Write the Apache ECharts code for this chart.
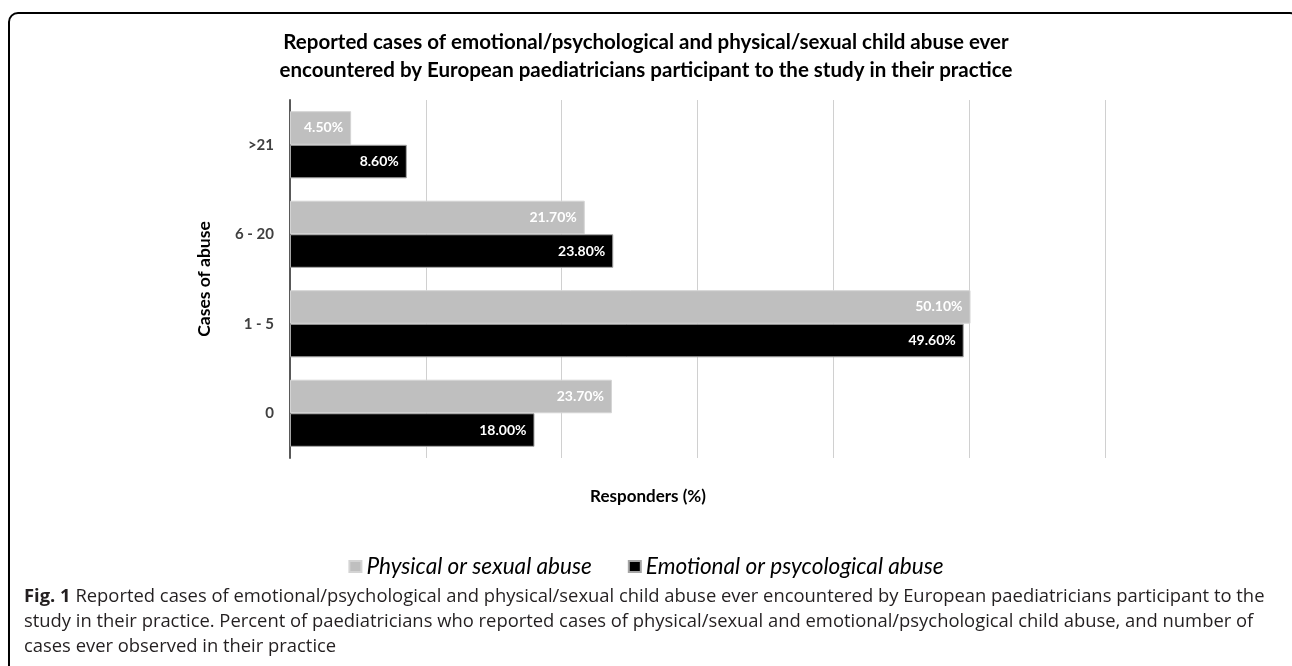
<!DOCTYPE html>
<html>
<head>
<meta charset="utf-8">
<script src="https://cdn.jsdelivr.net/npm/echarts@6/dist/echarts.min.js"></script>
<style>
  html, body { margin: 0; padding: 0; background: #fff; }
  #chart { width: 1292px; height: 666px; }
</style>
</head>
<body>
<div id="chart"></div>
<script>
// Number of cases ever seen (bottom to top on the category axis)
const caseCategories = ['0', '1 - 5', '6 - 20', '>21'];
// Percent of responders per category
const physicalSexual = [23.7, 50.1, 21.7, 4.5];
const emotionalPsych = [18.0, 49.6, 23.8, 8.6];
const seriesNames = ['Physical or sexual abuse', 'Emotional or psycological abuse'];

const titleLines = [
  'Reported cases of emotional/psychological and physical/sexual child abuse ever',
  'encountered by European paediatricians participant to the study in their practice'
];
const xAxisTitle = 'Responders (%)';
const captionLead = 'Fig. 1';
const captionLines = [
  'Reported cases of emotional/psychological and physical/sexual child abuse ever encountered by European paediatricians participant to the',
  'study in their practice. Percent of paediatricians who reported cases of physical/sexual and emotional/psychological child abuse, and number of',
  'cases ever observed in their practice'
];

const chart = echarts.init(document.getElementById('chart'), null, { renderer: 'canvas' });

const labelStyle = {
  show: true,
  position: 'insideRight',
  distance: 8,
  color: '#ffffff',
  fontFamily: 'Lato',
  fontWeight: 'bold',
  fontSize: 14,
  formatter: p => p.value.toFixed(2) + '%'
};

chart.setOption({
  animation: false,
  backgroundColor: '#ffffff',
  title: {
    text: titleLines.join('\n'),
    left: 'center',
    top: 23,
    textStyle: {
      fontFamily: 'Lato',
      fontWeight: 'bold',
      fontSize: 20.5,
      lineHeight: 28,
      color: '#000000'
    }
  },
  legend: {
    data: seriesNames,
    left: 'center',
    top: 550,
    icon: 'rect',
    itemWidth: 12,
    itemHeight: 11,
    itemGap: 36,
    textStyle: {
      fontFamily: 'Lato',
      fontStyle: 'italic',
      fontSize: 22.6,
      color: '#000000'
    }
  },
  grid: { left: 290, right: 187, top: 100, bottom: 208 },
  xAxis: {
    type: 'value',
    min: 0,
    max: 60,
    interval: 10,
    axisLabel: { show: false },
    axisTick: { show: false },
    axisLine: { show: false },
    splitLine: { show: true, lineStyle: { color: '#d0d0d0', width: 1 } }
  },
  yAxis: {
    type: 'category',
    data: caseCategories,
    name: 'Cases of abuse',
    nameLocation: 'middle',
    nameGap: 77,
    nameRotate: 90,
    nameTextStyle: { fontFamily: 'Lato', fontWeight: 'bold', fontSize: 17.5, color: '#000000' },
    axisLine: { show: true, lineStyle: { color: '#595959', width: 2 } },
    axisTick: { show: false },
    axisLabel: { fontFamily: 'Lato', fontWeight: 'bold', fontSize: 15, color: '#404040', margin: 16 }
  },
  series: [
    {
      name: seriesNames[0],
      type: 'bar',
      data: physicalSexual,
      barGap: '0%',
      barCategoryGap: '25%',
      itemStyle: { color: '#bfbfbf', borderColor: '#d4d4d4', borderWidth: 1 },
      label: labelStyle
    },
    {
      name: seriesNames[1],
      type: 'bar',
      data: emotionalPsych,
      barGap: '0%',
      barCategoryGap: '25%',
      itemStyle: { color: '#000000', borderColor: '#a6a6a6', borderWidth: 1 },
      label: labelStyle
    }
  ],
  graphic: [
    {
      // frame around the figure panel
      type: 'rect',
      silent: true,
      shape: { x: 9, y: 13, width: 1290, height: 720, r: 9 },
      style: { fill: 'none', stroke: '#000000', lineWidth: 2 }
    },
    {
      // x axis title, centred on the panel
      type: 'text',
      x: 648,
      y: 497,
      silent: true,
      style: {
        text: xAxisTitle,
        fontFamily: 'Lato',
        fontWeight: 'bold',
        fontSize: 17,
        fill: '#000000',
        align: 'center',
        verticalAlign: 'middle'
      }
    },
    {
      // figure caption
      type: 'text',
      left: 24,
      top: 584,
      silent: true,
      style: {
        text: '{b|' + captionLead + '} ' + captionLines.join('\n'),
        fontFamily: 'Open Sans',
        fontSize: 18.4,
        lineHeight: 25,
        fill: '#231f20',
        rich: {
          b: { fontFamily: 'Open Sans', fontWeight: 'bold', fontSize: 18.4, lineHeight: 25, fill: '#231f20' }
        }
      }
    }
  ]
});
</script>
</body>
</html>
